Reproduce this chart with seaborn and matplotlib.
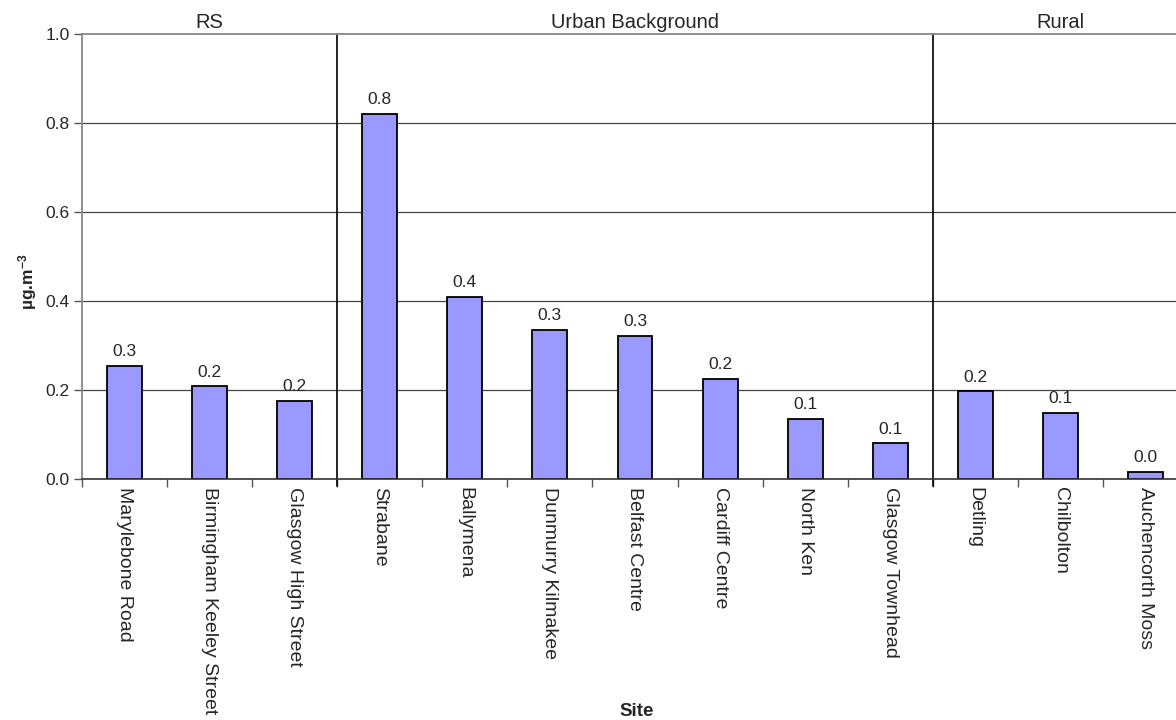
import matplotlib
matplotlib.use("Agg")
import matplotlib.pyplot as plt
import numpy as np
import pandas as pd
import seaborn as sns

sites = ["Marylebone Road", "Birmingham Keeley Street", "Glasgow High Street",
         "Strabane", "Ballymena", "Dunmurry Kilmakee", "Belfast Centre",
         "Cardiff Centre", "North Ken", "Glasgow Townhead",
         "Detling", "Chilbolton", "Auchencorth Moss"]
values = [0.254, 0.208, 0.175, 0.820, 0.410, 0.335, 0.321, 0.225, 0.135,
          0.080, 0.197, 0.148, 0.016]
groups = ["RS", "Urban Background", "Rural"]
group_sizes = [3, 7, 3]

sns.set_theme(style="white")
plt.rcParams["font.family"] = ["Liberation Sans", "DejaVu Sans"]
plt.rcParams["mathtext.fontset"] = "custom"
plt.rcParams["mathtext.bf"] = "Liberation Sans:bold"
plt.rcParams["mathtext.rm"] = "Liberation Sans"
plt.rcParams["mathtext.default"] = "bf"

df = pd.DataFrame({"Site": sites, "value": values})

fig = plt.figure(figsize=(11.76, 7.2), dpi=100)
# plot area runs past the right edge in the reference
ax = fig.add_axes([82 / 1176, (720 - 479) / 720, 1106 / 1176, 445 / 720])

sns.barplot(data=df, x="Site", y="value", color="#9999FF", saturation=1,
            edgecolor="black", linewidth=1.3, width=0.41, ax=ax)

ax.set_xlim(-0.5, len(sites) - 0.5)
ax.set_ylim(0, 1.0)
ax.set_yticks(np.arange(0, 1.01, 0.2))
ax.set_yticklabels([f"{v:.1f}" for v in np.arange(0, 1.01, 0.2)], fontsize=12.5)
for y in [0.2, 0.4, 0.6, 0.8]:
    ax.axhline(y, color="#444444", lw=0.9, zorder=0)

# value labels
for i, v in enumerate(values):
    ax.text(i, v + 0.015, f"{v:.1f}", ha="center", va="bottom", fontsize=12.5)

# category ticks
ax.set_xticks(range(len(sites)))
ax.set_xticklabels(sites, rotation=-90, fontsize=14, va="top")
ax.tick_params(axis="x", which="major", length=0, pad=6)
ax.set_xticks(np.arange(-0.5, len(sites), 1), minor=True)
ax.tick_params(axis="x", which="minor", length=6, width=1, color="#555555",
               direction="out", bottom=True)
ax.tick_params(axis="y", length=6, width=1, color="#555555", direction="out",
               left=True, pad=3)

# group separators and labels
pos = -0.5
for g, n in zip(groups, group_sizes):
    if pos > -0.5:
        ax.axvline(pos, color="black", lw=1.2, ymin=-0.015, ymax=1, clip_on=False)
    ax.text(pos + n / 2, 1.004, g, ha="center", va="bottom", fontsize=14.5)
    pos += n

for side in ["top", "left"]:
    ax.spines[side].set_color("#888888")
    ax.spines[side].set_linewidth(1.3)
ax.spines["bottom"].set_color("#333333")
ax.spines["bottom"].set_linewidth(1.2)
ax.spines["right"].set_visible(False)

ax.set_xlabel("Site", fontsize=13.5, fontweight="bold")
ax.xaxis.set_label_coords((637 - 82) / 1106, -0.503)
ax.set_ylabel(r"µg.m$^{-3}$", fontsize=12.5, fontweight="bold")
ax.yaxis.set_label_coords(-0.039, 0.443)

fig.savefig("out.png", dpi=100)
